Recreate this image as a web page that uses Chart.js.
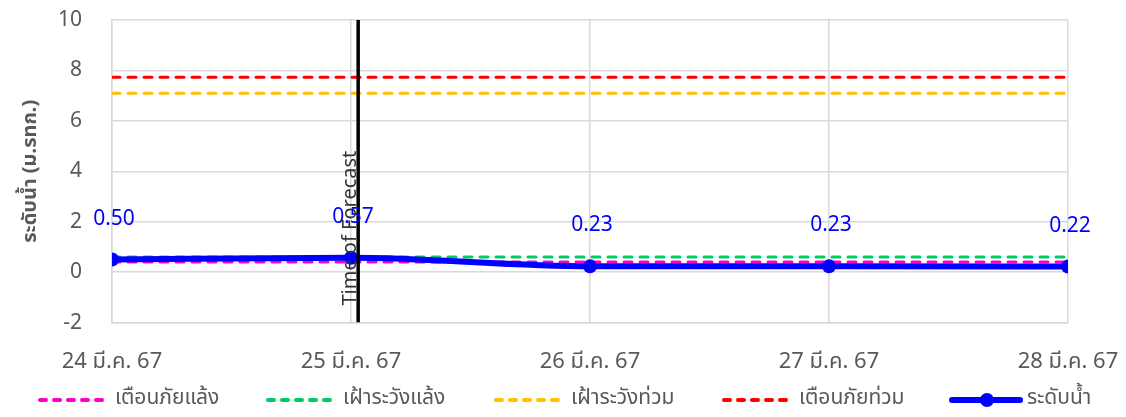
<!DOCTYPE html>
<html>
<head>
<meta charset="utf-8">
<script src="https://cdn.jsdelivr.net/npm/chart.js@4"></script>
<style>
  html, body { margin: 0; padding: 0; background: #fff; }
  #wrap { width: 1126px; height: 417px; }
</style>
</head>
<body>
<div id="wrap"><canvas id="chart" width="1126" height="417"></canvas></div>
<script>
// Water level at station, with warning thresholds
const categories = ['24 มี.ค. 67', '25 มี.ค. 67', '26 มี.ค. 67', '27 มี.ค. 67', '28 มี.ค. 67'];
const waterLevel = [0.50, 0.57, 0.23, 0.23, 0.22];
const droughtWarning = [0.40, 0.40, 0.40, 0.40, 0.40];
const droughtWatch = [0.60, 0.60, 0.60, 0.60, 0.60];
const floodWatch = [7.10, 7.10, 7.10, 7.10, 7.10];
const floodWarning = [7.73, 7.73, 7.73, 7.73, 7.73];
const yTicks = [-2, 0, 2, 4, 6, 8, 10];
const forecastAt = 1.03; // position on category axis
const forecastLabel = 'Time of Forecast';

const FONT = "'Noto Sans', 'Noto Sans Thai', 'Open Sans', sans-serif";
const GREY = '#595959';

const toPoints = arr => arr.map((v, i) => ({ x: i, y: v }));

function dashed(label, data, color) {
  return {
    label: label,
    data: toPoints(data),
    borderColor: color,
    backgroundColor: color,
    borderWidth: 3,
    borderDash: [8, 8],
    borderCapStyle: 'round',
    pointRadius: 0,
    pointHoverRadius: 0,
    order: 3
  };
}

// value labels above the water level points + forecast marker text
const valueLabels = {
  id: 'valueLabels',
  afterDatasetsDraw(chart) {
    const ctx = chart.ctx;
    const meta = chart.getDatasetMeta(4);
    ctx.save();
    ctx.font = '21px ' + FONT;
    ctx.fillStyle = '#0000FF';
    ctx.textAlign = 'center';
    ctx.textBaseline = 'middle';
    meta.data.forEach((pt, i) => {
      ctx.fillText(waterLevel[i].toFixed(2), pt.x + 2, pt.y - 41);
    });
    const x = chart.scales.x.getPixelForValue(forecastAt);
    ctx.translate(x - 8, chart.chartArea.bottom - 17);
    ctx.rotate(-Math.PI / 2);
    ctx.font = '20px ' + FONT;
    ctx.fillStyle = '#333333';
    ctx.textAlign = 'left';
    ctx.fillText(forecastLabel, 0, 0);
    ctx.restore();
  }
};

// Excel-style legend: evenly spaced entries along the bottom
const bottomLegend = {
  id: 'bottomLegend',
  afterDraw(chart) {
    const ctx = chart.ctx;
    const startX = 38, step = 228, lineY = 400, textY = 398;
    ctx.save();
    ctx.font = '21px ' + FONT;
    ctx.textBaseline = 'middle';
    ctx.textAlign = 'left';
    [0, 1, 2, 3, 4].forEach((di, i) => {
      const ds = chart.data.datasets[di];
      const x0 = startX + i * step;
      ctx.strokeStyle = ds.borderColor;
      ctx.fillStyle = ds.borderColor;
      ctx.lineCap = 'round';
      if (ds.borderDash) {
        ctx.lineWidth = 4;
        ctx.setLineDash([6, 8]);
      } else {
        ctx.lineWidth = 6;
        ctx.setLineDash([]);
      }
      ctx.beginPath();
      ctx.moveTo(x0 + 2, lineY);
      ctx.lineTo(x0 + 70, lineY);
      ctx.stroke();
      if (!ds.borderDash) {
        ctx.beginPath();
        ctx.arc(x0 + 37, lineY, 7, 0, Math.PI * 2);
        ctx.fill();
      }
      ctx.fillStyle = GREY;
      ctx.fillText(ds.label, x0 + 77, textY);
    });
    ctx.restore();
  }
};

new Chart(document.getElementById('chart'), {
  type: 'line',
  data: {
    datasets: [
      dashed('เตือนภัยแล้ง', droughtWarning, '#FF00CC'),
      dashed('เฝ้าระวังแล้ง', droughtWatch, '#00CC66'),
      dashed('เฝ้าระวังท่วม', floodWatch, '#FFC000'),
      dashed('เตือนภัยท่วม', floodWarning, '#FF0000'),
      {
        label: 'ระดับน้ำ',
        data: toPoints(waterLevel),
        borderColor: '#0000FF',
        backgroundColor: '#0000FF',
        borderWidth: 6,
        cubicInterpolationMode: 'monotone',
        pointRadius: 7,
        pointHoverRadius: 7,
        pointBorderWidth: 0,
        order: 1
      },
      {
        label: 'forecast',
        data: [{ x: forecastAt, y: -2 }, { x: forecastAt, y: 10 }],
        borderColor: '#000000',
        borderWidth: 3.5,
        pointRadius: 0,
        order: 0
      }
    ]
  },
  options: {
    responsive: false,
    animation: false,
    events: [],
    layout: { padding: { top: 20, right: 58, left: 0, bottom: 16 } },
    plugins: {
      tooltip: { enabled: false },
      legend: { display: false }
    },
    scales: {
      x: {
        type: 'linear',
        min: 0,
        max: categories.length - 1,
        afterBuildTicks(scale) {
          scale.ticks = categories.map((c, i) => ({ value: i }));
        },
        afterFit(scale) {
          scale.paddingLeft = 0;
          scale.paddingRight = 0;
        },
        ticks: {
          callback: v => categories[v],
          color: GREY,
          font: { family: FONT, size: 22 },
          padding: 26,
          maxRotation: 0,
          autoSkip: false
        },
        grid: { color: '#D9D9D9', lineWidth: 1.5, drawTicks: false },
        border: { color: '#D9D9D9', width: 1.5 }
      },
      y: {
        min: -2,
        max: 10,
        afterBuildTicks(scale) {
          scale.ticks = yTicks.map(v => ({ value: v }));
        },
        afterFit(scale) {
          scale.width = 112;
          scale.paddingTop = 0;
          scale.paddingBottom = 0;
        },
        ticks: {
          color: GREY,
          font: { family: FONT, size: 21 },
          padding: 30
        },
        grid: { color: '#D9D9D9', lineWidth: 1.5, drawTicks: false },
        border: { color: '#D9D9D9', width: 1.5 },
        title: {
          display: true,
          text: 'ระดับน้ำ (ม.รทก.)',
          color: GREY,
          font: { family: FONT, size: 20, weight: 'bold' },
          padding: { top: 18, bottom: 0 }
        }
      }
    }
  },
  plugins: [valueLabels, bottomLegend]
});
</script>
</body>
</html>
